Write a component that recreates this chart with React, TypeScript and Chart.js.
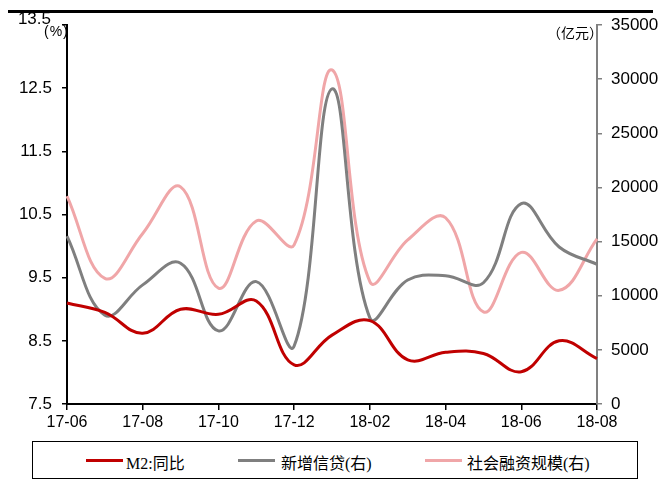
import React, { useEffect, useRef } from 'react';
import { Chart, registerables } from 'chart.js';

Chart.register(...registerables);

// Monthly categories, June 2017 to August 2018
const months = [
  '17-06', '17-07', '17-08', '17-09', '17-10', '17-11', '17-12',
  '18-01', '18-02', '18-03', '18-04', '18-05', '18-06', '18-07', '18-08',
];

// M2 year-on-year growth, % (left axis)
const m2Yoy = [9.1, 8.95, 8.62, 9.0, 8.92, 9.13, 8.12, 8.59, 8.82, 8.2, 8.32, 8.3, 8.01, 8.5, 8.22];

// New RMB loans, 100 million yuan (right axis)
const newLoans = [15500, 8200, 11000, 13000, 6750, 11300, 5350, 29100, 7950, 11450, 11850, 11200, 18500, 14500, 12900];

// Aggregate social financing, 100 million yuan (right axis)
const socialFinancing = [19200, 11600, 15750, 20050, 10700, 16900, 14700, 30850, 11300, 15150, 17200, 8500, 14000, 10500, 15250];

const leftTicks = [7.5, 8.5, 9.5, 10.5, 11.5, 12.5, 13.5];
const rightTicks = [0, 5000, 10000, 15000, 20000, 25000, 30000, 35000];

const seriesNames = ['M2:同比', '新增信贷(右)', '社会融资规模(右)'];
const seriesColors = ['#C00000', '#7F7F7F', '#F0A6A8'];

const AXIS_FONT = '"Liberation Sans Narrow", "Arial Narrow", "Liberation Sans", Arial, sans-serif';
const LEGEND_FONT = '"Liberation Serif", "Noto Sans CJK SC", serif';

export default function App() {
  const canvasRef = useRef<HTMLCanvasElement>(null);

  useEffect(() => {
    const canvas = canvasRef.current;
    if (!canvas) return;
    const chart = new Chart(canvas, {
      type: 'line',
      data: {
        labels: months,
        datasets: [
          { label: seriesNames[0], data: m2Yoy, yAxisID: 'yL' },
          { label: seriesNames[1], data: newLoans, yAxisID: 'yR' },
          { label: seriesNames[2], data: socialFinancing, yAxisID: 'yR' },
        ].map((d, i) => ({
          ...d,
          borderColor: seriesColors[i],
          backgroundColor: seriesColors[i],
          borderWidth: 3,
          pointRadius: 0,
          tension: 0.4,
          fill: false,
        })),
      },
      options: {
        animation: false,
        responsive: false,
        maintainAspectRatio: false,
        layout: { padding: { top: 25, left: 0, right: 0, bottom: 0 } },
        plugins: { legend: { display: false }, tooltip: { enabled: false } },
        scales: {
          x: {
            type: 'category',
            offset: false,
            grid: { drawOnChartArea: false, tickLength: 6, color: '#000', lineWidth: 1.5 },
            border: { color: '#000', width: 2 },
            ticks: {
              autoSkip: false,
              maxRotation: 0,
              padding: 3,
              color: '#000',
              font: { family: AXIS_FONT, size: 16 },
              callback: (_v: any, i: number) => (i % 2 === 0 ? months[i] : null),
            },
            afterFit: (s: any) => { s.height = 36; },
          },
          yL: {
            position: 'left',
            min: 7.5,
            max: 13.5,
            afterBuildTicks: (s: any) => { s.ticks = leftTicks.map((v) => ({ value: v })); },
            grid: { drawOnChartArea: false, tickLength: 5, color: '#000', lineWidth: 1.5 },
            border: { color: '#000', width: 2 },
            ticks: {
              padding: 10,
              color: '#000',
              font: { family: AXIS_FONT, size: 17 },
              // the top label sits a little higher and is drawn separately
              callback: (v: any) => (Number(v) === 13.5 ? '' : Number(v).toFixed(1)),
            },
            afterFit: (s: any) => { s.width = 67; },
          },
          yR: {
            position: 'right',
            min: 0,
            max: 35000,
            afterBuildTicks: (s: any) => { s.ticks = rightTicks.map((v) => ({ value: v })); },
            grid: { drawOnChartArea: false, tickLength: 5, color: '#808080', lineWidth: 1.5 },
            border: { color: '#808080', width: 2 },
            ticks: {
              padding: 9,
              color: '#000',
              font: { family: AXIS_FONT, size: 17 },
              callback: (v: any) => String(v),
            },
            afterFit: (s: any) => { s.width = 64; },
          },
        },
      },
    });
    return () => chart.destroy();
  }, []);

  const legendItems = [
    { lineLeft: 86, textLeft: 126 },
    { lineLeft: 238, textLeft: 281 },
    { lineLeft: 425, textLeft: 467 },
  ];

  return (
    <div style={{ position: 'fixed', left: 0, top: 0, width: 661, height: 479, background: '#fff', overflow: 'hidden' }}>
      <div style={{ position: 'absolute', left: 8, top: 10, width: 645, height: 3, background: '#000' }} />
      <canvas ref={canvasRef} width={661} height={440} style={{ position: 'absolute', left: 0, top: 0, width: 661, height: 440 }} />
      <div style={{ position: 'absolute', right: 661 - 51, top: 9, lineHeight: '20px', font: `17px ${AXIS_FONT}`, color: '#000' }}>13.5</div>
      <div style={{ position: 'absolute', left: 44, top: 23, font: `14px ${AXIS_FONT}`, color: '#000', letterSpacing: 1 }}>(%)</div>
      <div style={{ position: 'absolute', left: 547, top: 22, font: '14px "Noto Sans CJK SC", sans-serif', color: '#000' }}>（亿元）</div>
      <div style={{ position: 'absolute', left: 32, top: 441, width: 606, height: 38, border: '1.5px solid #000', boxSizing: 'border-box' }} />
      {legendItems.map((it, i) => (
        <React.Fragment key={i}>
          <div style={{ position: 'absolute', left: it.lineLeft, top: 459, width: 37, height: 3, background: seriesColors[i] }} />
          <div style={{ position: 'absolute', left: it.textLeft, top: 450, height: 22, lineHeight: '22px', font: `16px ${LEGEND_FONT}`, color: '#000', whiteSpace: 'nowrap' }}>{seriesNames[i]}</div>
        </React.Fragment>
      ))}
    </div>
  );
}
